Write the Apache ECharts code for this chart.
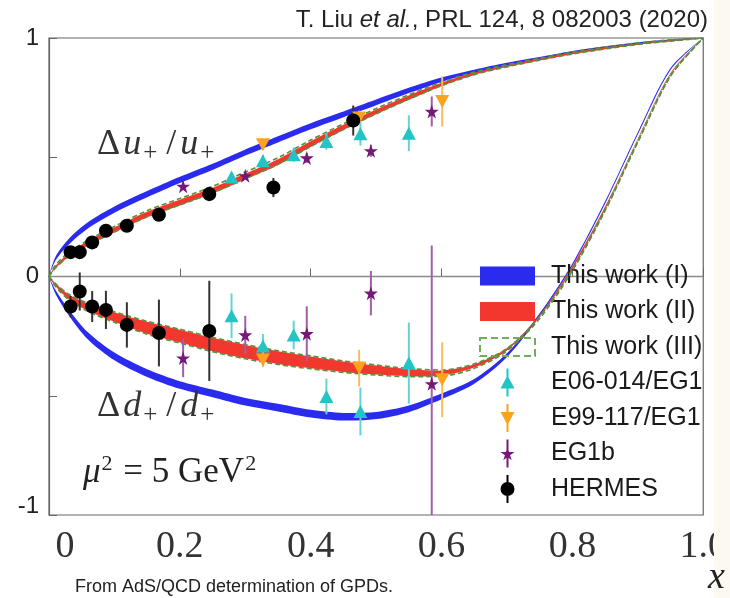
<!DOCTYPE html>
<html>
<head>
<meta charset="utf-8">
<script src="https://cdn.jsdelivr.net/npm/echarts@6/dist/echarts.min.js"></script>
<style>
  html, body { margin: 0; padding: 0; background: #ffffff; }
  #chart { width: 730px; height: 598px; }
</style>
</head>
<body>
<div id="chart"></div>
<script>
// ---- model curves: common x grid ----
const curveX = [0, 0.01, 0.03, 0.06, 0.1, 0.15, 0.2, 0.25, 0.3, 0.35, 0.4, 0.45, 0.5, 0.55, 0.6, 0.65, 0.7, 0.75, 0.8, 0.85, 0.9, 0.95, 1.0];

// This work (I): Δu+/u+ band and Δd+/d+ band
const bandIUpLo = [0, 0.067, 0.133, 0.202, 0.267, 0.332, 0.392, 0.447, 0.507, 0.562, 0.617, 0.668, 0.718, 0.769, 0.816, 0.853, 0.884, 0.910, 0.935, 0.955, 0.972, 0.986, 1.0];
const bandIUpHi = [0, 0.083, 0.157, 0.228, 0.293, 0.358, 0.418, 0.473, 0.533, 0.588, 0.643, 0.692, 0.742, 0.791, 0.834, 0.867, 0.896, 0.920, 0.945, 0.965, 0.982, 0.994, 1.0];
const bandIDnLo = [0, -0.073, -0.162, -0.265, -0.351, -0.421, -0.471, -0.506, -0.541, -0.566, -0.591, -0.604, -0.598, -0.569, -0.515, -0.45, -0.338, -0.166, 0.045, 0.305, 0.595, 0.866, 1.0];
const bandIDnHi = [0, -0.057, -0.138, -0.235, -0.319, -0.389, -0.439, -0.474, -0.509, -0.534, -0.559, -0.572, -0.568, -0.541, -0.491, -0.43, -0.322, -0.154, 0.055, 0.315, 0.605, 0.874, 1.0];

// This work (II)
const bandIIUpLo = [0, 0.035, 0.082, 0.13, 0.184, 0.248, 0.298, 0.348, 0.408, 0.468, 0.543, 0.614, 0.68, 0.741, 0.798, 0.845, 0.878, 0.906, 0.932, 0.953, 0.972, 0.986, 1.0];
const bandIIUpHi = [0, 0.045, 0.098, 0.15, 0.206, 0.272, 0.322, 0.372, 0.432, 0.492, 0.567, 0.636, 0.70, 0.759, 0.812, 0.855, 0.886, 0.914, 0.94, 0.961, 0.978, 0.992, 1.0];
const bandIIDnLo = [0, -0.041, -0.095, -0.145, -0.19, -0.24, -0.277, -0.313, -0.343, -0.367, -0.385, -0.40, -0.411, -0.418, -0.416, -0.382, -0.31, -0.169, 0.031, 0.282, 0.572, 0.847, 1.0];
const bandIIDnHi = [0, -0.029, -0.075, -0.115, -0.15, -0.19, -0.223, -0.257, -0.287, -0.313, -0.335, -0.356, -0.373, -0.388, -0.394, -0.368, -0.30, -0.161, 0.044, 0.293, 0.578, 0.853, 1.0];

// This work (III): dashed envelope
const bandIIIUpLo = [0, 0.036, 0.084, 0.132, 0.186, 0.25, 0.30, 0.35, 0.41, 0.47, 0.545, 0.616, 0.682, 0.743, 0.80, 0.846, 0.879, 0.907, 0.933, 0.954, 0.973, 0.987, 1.0];
const bandIIIUpHi = [0, 0.048, 0.10, 0.153, 0.21, 0.276, 0.327, 0.378, 0.438, 0.498, 0.572, 0.64, 0.704, 0.762, 0.815, 0.857, 0.888, 0.915, 0.941, 0.962, 0.979, 0.992, 1.0];
const bandIIIDnLo = [0, -0.042, -0.097, -0.147, -0.192, -0.242, -0.279, -0.315, -0.345, -0.369, -0.387, -0.402, -0.413, -0.42, -0.418, -0.385, -0.312, -0.176, 0.024, 0.276, 0.563, 0.84, 1.0];
const bandIIIDnHi = [0, -0.03, -0.074, -0.113, -0.148, -0.188, -0.221, -0.255, -0.285, -0.311, -0.333, -0.354, -0.371, -0.386, -0.392, -0.366, -0.302, -0.168, 0.03, 0.28, 0.567, 0.843, 1.0];

// ---- measurements ----
const hermesX    = [0.033, 0.047, 0.066, 0.087, 0.119, 0.168, 0.245, 0.343, 0.465];
const hermesDu   = [0.102, 0.102, 0.143, 0.192, 0.213, 0.259, 0.346, 0.373, 0.654];
const hermesDuEr = [0.012, 0.012, 0.014, 0.016, 0.018, 0.022, 0.03, 0.04, 0.063];
const hermesDX   = [0.033, 0.047, 0.066, 0.087, 0.119, 0.168, 0.245];
const hermesDd   = [-0.126, -0.063, -0.126, -0.14, -0.203, -0.237, -0.228];
const hermesDdEr = [0.045, 0.08, 0.065, 0.08, 0.095, 0.14, 0.21];

const e06X    = [0.279, 0.327, 0.374, 0.424, 0.476, 0.550];
const e06Du   = [0.417, 0.485, 0.511, 0.566, 0.599, 0.601];
const e06DuEr = [0.02, 0.025, 0.03, 0.035, 0.05, 0.075];
const e06Dd   = [-0.165, -0.291, -0.245, -0.503, -0.566, -0.363];
const e06DdEr = [0.094, 0.05, 0.06, 0.075, 0.10, 0.17];

const e99X    = [0.327, 0.474, 0.601];
const e99Du   = [0.552, 0.665, 0.734];
const e99DuEr = [0.02, 0.03, 0.105];
const e99Dd   = [-0.35, -0.384, -0.433];
const e99DdEr = [0.03, 0.077, 0.157];

const eg1bX    = [0.205, 0.300, 0.394, 0.492, 0.585];
const eg1bDu   = [0.378, 0.422, 0.497, 0.527, 0.692];
const eg1bDuEr = [0.015, 0.015, 0.02, 0.025, 0.063];
const eg1bDd   = [-0.342, -0.245, -0.240, -0.07, -0.45];
const eg1bDdEr = [0.08, 0.08, 0.115, 0.093, 0.58];

// ---- axis ticks ----
const xTickValues = [0, 0.2, 0.4, 0.6, 0.8, 1.0];
const xTickLabels = ['0', '0.2', '0.4', '0.6', '0.8', '1.0'];
const yTickLabels = { '-1': '-1', '0': '0', '1': '1' };

// ---- styling ----
const BLUE = '#2b2bf0';
const RED = '#f2382e';
const GREEN = '#58903c';
const CYAN = '#22c4c6';
const CYAN_BAR = '#62d4d4';
const ORANGE = '#fba31c';
const ORANGE_BAR = '#f8bd5c';
const PURPLE = '#761877';
const PURPLE_BAR = '#a25ea8';
const BLACK = '#000000';
const BLACK_BAR = '#333333';

const STAR = 'path://M50,0L61,35L98,35L68,57L79,91L50,70L21,91L32,57L2,35L39,35Z';

function bandSeries(name, lo, hi, color, z) {
  return {
    name: name,
    type: 'custom',
    z: z,
    silent: true,
    clip: true,
    data: curveX.map((x, i) => [x, lo[i], hi[i]]),
    encode: { x: 0, y: [1, 2] },
    renderItem: function (params, api) {
      if (params.dataIndex !== 0) return null;
      const top = [];
      const bottom = [];
      curveX.forEach((x, i) => {
        top.push(api.coord([x, hi[i]]));
        if (i > 0 && i < curveX.length - 1) bottom.push(api.coord([x, lo[i]]));
      });
      bottom.reverse();
      return {
        type: 'polygon',
        shape: { points: top.concat(bottom), smooth: 0.3 },
        style: { fill: color }
      };
    }
  };
}

function dashedSeries(name, ys) {
  return {
    name: name,
    type: 'line',
    z: 4,
    silent: true,
    smooth: 0.3,
    showSymbol: false,
    data: curveX.map((x, i) => [x, ys[i]]),
    lineStyle: { color: GREEN, width: 1.6, type: [5, 3] }
  };
}

function errorSeries(name, xs, ys, es, color, z) {
  return {
    name: name,
    type: 'custom',
    z: z,
    silent: true,
    clip: true,
    data: xs.map((x, i) => [x, ys[i], es[i]]),
    encode: { x: 0, y: 1 },
    renderItem: function (params, api) {
      const x = api.value(0), y = api.value(1), e = api.value(2);
      const a = api.coord([x, y + e]);
      const b = api.coord([x, y - e]);
      return {
        type: 'line',
        shape: { x1: a[0], y1: a[1], x2: b[0], y2: b[1] },
        style: { stroke: color, lineWidth: 2 }
      };
    }
  };
}

function pointSeries(name, xs, ys, symbol, size, color, rotate, z) {
  return {
    name: name,
    type: 'scatter',
    z: z,
    silent: true,
    symbol: symbol,
    symbolSize: size,
    symbolRotate: rotate || 0,
    data: xs.map((x, i) => [x, ys[i]]),
    itemStyle: { color: color, opacity: 1 }
  };
}

const series = [
  {
    name: 'zero',
    type: 'line',
    z: 1,
    silent: true,
    showSymbol: false,
    data: [[xTickValues[0], 0], [xTickValues[xTickValues.length - 1], 0]],
    lineStyle: { color: '#8a8a8a', width: 1.5 }
  },
  bandSeries('This work (I)', bandIUpLo, bandIUpHi, BLUE, 2),
  bandSeries('This work (I)', bandIDnLo, bandIDnHi, BLUE, 2),
  bandSeries('This work (II)', bandIIUpLo, bandIIUpHi, RED, 3),
  bandSeries('This work (II)', bandIIDnLo, bandIIDnHi, RED, 3),
  dashedSeries('This work (III)', bandIIIUpLo),
  dashedSeries('This work (III)', bandIIIUpHi),
  dashedSeries('This work (III)', bandIIIDnLo),
  dashedSeries('This work (III)', bandIIIDnHi),

  errorSeries('E06-014/EG1', e06X, e06Du, e06DuEr, CYAN_BAR, 5),
  errorSeries('E06-014/EG1', e06X, e06Dd, e06DdEr, CYAN_BAR, 5),
  errorSeries('E99-117/EG1', e99X, e99Du, e99DuEr, ORANGE_BAR, 5),
  errorSeries('E99-117/EG1', e99X, e99Dd, e99DdEr, ORANGE_BAR, 5),
  errorSeries('EG1b', eg1bX, eg1bDu, eg1bDuEr, PURPLE_BAR, 5),
  errorSeries('EG1b', eg1bX, eg1bDd, eg1bDdEr, PURPLE_BAR, 5),
  errorSeries('HERMES', hermesX, hermesDu, hermesDuEr, BLACK_BAR, 5),
  errorSeries('HERMES', hermesDX, hermesDd, hermesDdEr, BLACK_BAR, 5),

  pointSeries('E06-014/EG1', e06X, e06Du, 'triangle', [14, 13], CYAN, 0, 6),
  pointSeries('E06-014/EG1', e06X, e06Dd, 'triangle', [14, 13], CYAN, 0, 6),
  pointSeries('E99-117/EG1', e99X, e99Du, 'triangle', [14, 13], ORANGE, 180, 6),
  pointSeries('E99-117/EG1', e99X, e99Dd, 'triangle', [14, 13], ORANGE, 180, 6),
  pointSeries('EG1b', eg1bX, eg1bDu, STAR, 14, PURPLE, 0, 7),
  pointSeries('EG1b', eg1bX, eg1bDd, STAR, 14, PURPLE, 0, 7),
  pointSeries('HERMES', hermesX, hermesDu, 'circle', 14, BLACK, 0, 8),
  pointSeries('HERMES', hermesDX, hermesDd, 'circle', 14, BLACK, 0, 8)
];

const legendIcons = {
  band: 'path://M0,0H55V19H0Z',
  dashed: 'path://M1,1H53V18H1Z',
  up: 'path://M9,0H11V28H9Z M10,7L17,20H3Z',
  down: 'path://M9,0H11V28H9Z M3,8H17L10,21Z',
  star: 'path://M9,0H11V28H9Z M10,7.4L11.6,12.5L17,12.5L12.6,15.7L14.2,20.7L10,17.6L5.8,20.7L7.4,15.7L3,12.5L8.4,12.5Z',
  dot: 'path://M9,0H11V28H9Z M10,7A7,7 0 1 1 10,21A7,7 0 1 1 10,7Z'
};

const SERIF = '"Liberation Serif", "DejaVu Serif", serif';
const SANS = '"Liberation Sans", Arial, sans-serif';

// rich-text styles for the math annotations
function mathRich(size, subSize, color) {
  return {
    d: { fontFamily: SERIF, fontSize: size, lineHeight: size + 6, fill: color, padding: [0, 3, 0, 0] },
    i: { fontFamily: SERIF, fontSize: size, lineHeight: size + 6, fontStyle: 'italic', fill: color, padding: [0, 2, 0, 0] },
    sl: { fontFamily: SERIF, fontSize: size, lineHeight: size + 6, fill: color, padding: [0, 4, 0, 4] },
    s: { fontFamily: SERIF, fontSize: subSize, lineHeight: subSize - 6, verticalAlign: 'bottom', fill: color, padding: [0, 5, 0, 0] }
  };
}

const option = {
  backgroundColor: '#ffffff',
  animation: false,
  title: {
    text: '{n|T. Liu }{i|et al.}{n|, PRL 124, 8 082003 (2020)}',
    right: 17,
    top: 3,
    textStyle: {
      fontWeight: 'normal',
      rich: {
        n: { fontFamily: SANS, fontSize: 24, fontWeight: 'normal', color: '#222' },
        i: { fontFamily: SANS, fontSize: 24, fontWeight: 'normal', fontStyle: 'italic', color: '#222' }
      }
    }
  },
  grid: {
    left: 49, right: 21, top: 38, bottom: 83,
    show: true, borderColor: '#666', borderWidth: 1.2, backgroundColor: '#ffffff'
  },
  xAxis: {
    type: 'value', min: 0, max: 1, interval: 0.2,
    axisLine: { show: true, lineStyle: { color: '#666', width: 1.2 } },
    axisTick: { show: true, inside: true, length: 8, lineStyle: { color: '#666' } },
    splitLine: { show: false },
    axisLabel: {
      margin: 13,
      showMaxLabel: true,
      fontFamily: SERIF, fontSize: 38, color: '#333',
      formatter: function (v) {
        const k = xTickValues.findIndex(t => Math.abs(t - v) < 1e-6);
        const s = k >= 0 ? xTickLabels[k] : '';
        return k === 0 ? '{z|' + s + '}' : s;
      },
      rich: { z: { fontFamily: SERIF, fontSize: 38, color: '#333', padding: [0, 0, 0, 32] } }
    }
  },
  yAxis: {
    type: 'value', min: -1, max: 1, interval: 0.5,
    axisLine: { show: true, lineStyle: { color: '#666', width: 1.2 } },
    axisTick: { show: true, inside: true, length: 8, lineStyle: { color: '#666' } },
    splitLine: { show: false },
    axisLabel: {
      margin: 10,
      fontFamily: SANS, fontSize: 24, color: '#222',
      formatter: function (v) {
        const s = yTickLabels[String(v)];
        if (!s) return '';
        return v === -1 ? '{m|' + s + '}' : s;
      },
      rich: { m: { fontFamily: SANS, fontSize: 24, color: '#222', padding: [0, 0, 18, 0] } }
    }
  },
  legend: {
    orient: 'vertical',
    left: 474, top: 257,
    itemWidth: 55, itemHeight: 28, itemGap: 7.5,
    symbolKeepAspect: true,
    selectedMode: false,
    textStyle: { fontFamily: SANS, fontSize: 25, lineHeight: 28, color: '#1a1a1a', padding: [0, 0, 0, 11] },
    data: [
      { name: 'This work (I)', icon: legendIcons.band, itemStyle: { color: BLUE } },
      { name: 'This work (II)', icon: legendIcons.band, itemStyle: { color: RED } },
      { name: 'This work (III)', icon: legendIcons.dashed,
        itemStyle: { color: 'rgba(255,255,255,0)', borderColor: '#6fae5a', borderWidth: 2, borderType: [7, 4] } },
      { name: 'E06-014/EG1', icon: legendIcons.up, itemStyle: { color: CYAN } },
      { name: 'E99-117/EG1', icon: legendIcons.down, itemStyle: { color: ORANGE } },
      { name: 'EG1b', icon: legendIcons.star, itemStyle: { color: PURPLE } },
      { name: 'HERMES', icon: legendIcons.dot, itemStyle: { color: BLACK } }
    ]
  },
  graphic: [
    {
      type: 'text', left: 97, top: 127, z: 100,
      style: { text: '{d|Δ}{i|u}{s|+}{sl|/}{i|u}{s|+}', rich: mathRich(36, 25, '#333') }
    },
    {
      type: 'text', left: 97, top: 389, z: 100,
      style: { text: '{d|Δ}{i|d}{s|+}{sl|/}{i|d}{s|+}', rich: mathRich(36, 25, '#333') }
    },
    {
      type: 'text', left: 83, top: 453, z: 100,
      style: {
        text: '{i|μ}{p|2}{d| = 5 GeV}{p|2}',
        rich: {
          d: { fontFamily: SERIF, fontSize: 35, lineHeight: 40, fill: '#222' },
          i: { fontFamily: SERIF, fontSize: 35, lineHeight: 40, fontStyle: 'italic', fill: '#222' },
          p: { fontFamily: SERIF, fontSize: 22, lineHeight: 16, verticalAlign: 'top', fill: '#222', padding: [0, 2, 0, 1] }
        }
      }
    },
    {
      type: 'text', left: 708, top: 559, z: 100,
      style: { text: 'x', fontFamily: SERIF, fontStyle: 'italic', fontSize: 38, fill: '#222' }
    },
    {
      type: 'text', left: 75, top: 578, z: 100,
      style: { text: 'From AdS/QCD determination of GPDs.', fontFamily: SANS, fontSize: 18, fill: '#222' }
    },
    {
      type: 'rect', right: 0, top: 0, z: 90,
      shape: { width: 16, height: 598 },
      style: { fill: '#fcfaf0' }
    }
  ],
  series: series
};

const chart = echarts.init(document.getElementById('chart'), null, { renderer: 'canvas' });
chart.setOption(option);
</script>
</body>
</html>
